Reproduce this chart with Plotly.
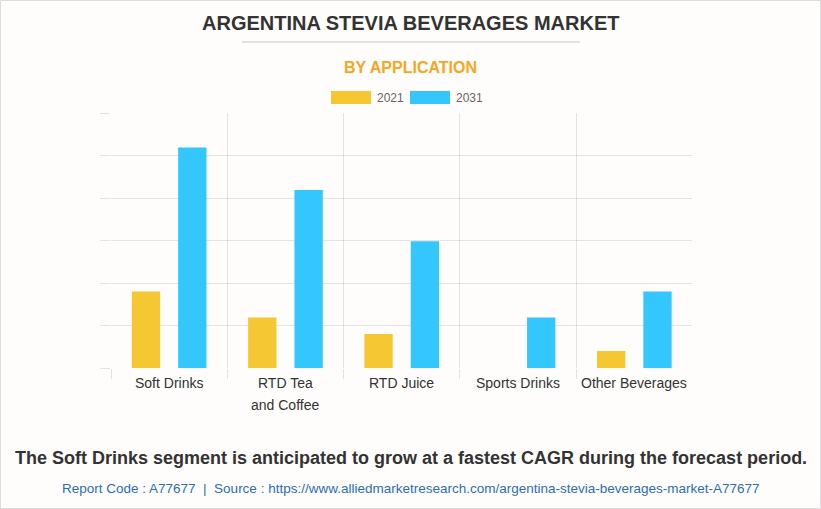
import plotly.graph_objects as go

categories = ["Soft Drinks", "RTD Tea<br>and Coffee", "RTD Juice", "Sports Drinks", "Other Beverages"]
values_2021 = [1.80, 1.19, 0.80, 0, 0.40]
values_2031 = [5.19, 4.19, 2.98, 1.19, 1.80]
series_names = ["2021", "2031"]
series_colors = ["#F4C733", "#33C7FE"]

W, H = 821, 509
ML, MR, MT, MB = 111, 129, 113, 141
PW, PH = W - ML - MR, H - MT - MB


def px(x):
    return (x - ML) / PW


def py(y):
    return (H - MB - y) / PH


fig = go.Figure()
for name, vals, col in zip(series_names, [values_2021, values_2031], series_colors):
    fig.add_trace(go.Bar(x=categories, y=vals, name=name, marker=dict(color=col, line=dict(width=0)),
                         showlegend=False))

grid = "rgba(0,0,0,0.1)"
fig.update_layout(
    width=W, height=H,
    margin=dict(l=ML, r=MR, t=MT, b=MB),
    paper_bgcolor="#FEFDFB", plot_bgcolor="#FEFDFB",
    barmode="group", bargap=0.203, bargroupgap=0.389,
    font=dict(family="Liberation Sans, Arial, sans-serif", color="#333"),
    xaxis=dict(tickson="boundaries", showgrid=True, gridcolor=grid, ticks="outside", ticklen=10,
               tickcolor=grid, showline=False, zeroline=False, showticklabels=False,
               range=[-0.5, 4.496]),
    yaxis=dict(range=[0, 6], dtick=1, showticklabels=False, showgrid=True, gridcolor=grid,
               ticks="outside", ticklen=10, tickcolor=grid, zeroline=False, showline=False),
)

shapes = [
    dict(type="line", xref="paper", yref="paper", x0=px(242), x1=px(580), y0=py(42), y1=py(42),
         line=dict(color="#E2E2E2", width=2)),
    dict(type="rect", xref="paper", yref="paper", x0=px(331), x1=px(371), y0=py(104), y1=py(91),
         fillcolor=series_colors[0], line=dict(width=0)),
    dict(type="rect", xref="paper", yref="paper", x0=px(410), x1=px(450), y0=py(104), y1=py(91),
         fillcolor=series_colors[1], line=dict(width=0)),
    dict(type="rect", xref="paper", yref="paper", x0=px(0.5), x1=px(820.5), y0=py(508.5), y1=py(0.5),
         line=dict(color="#DDDDDD", width=1)),
]
fig.update_layout(shapes=shapes)

ann = [
    dict(text="<b>ARGENTINA STEVIA BEVERAGES MARKET</b>", x=px(410.5), y=py(23), size=20, color="#333333"),
    dict(text="<b>BY APPLICATION</b>", x=px(410.5), y=py(67), size=16, color="#F5A623"),
    dict(text="<b>The Soft Drinks segment is anticipated to grow at a fastest CAGR during the forecast period.</b>",
         x=px(411), y=py(458), size=18, color="#333333"),
    dict(text="Report Code : A77677  |  Source : https://www.alliedmarketresearch.com/argentina-stevia-beverages-market-A77677",
         x=px(410.5), y=py(488), size=13.5, color="#2D6DB5"),
]
annotations = [dict(text=a["text"], x=a["x"], y=a["y"], xref="paper", yref="paper", showarrow=False,
                    xanchor="center", yanchor="middle", font=dict(size=a["size"], color=a["color"]))
               for a in ann]
annotations += [
    dict(text=series_names[0], x=px(375), y=py(97.5), xref="paper", yref="paper", showarrow=False,
         xanchor="left", yanchor="middle", font=dict(size=12, color="#666")),
    dict(text=series_names[1], x=px(454), y=py(97.5), xref="paper", yref="paper", showarrow=False,
         xanchor="left", yanchor="middle", font=dict(size=12, color="#666")),
]
# category labels (drawn as text at each category position, lines spaced like the reference)
for cat in categories:
    for i, line in enumerate(cat.split("<br>")):
        annotations.append(dict(text=line, x=cat, y=py(383 + 22 * i), xref="x", yref="paper",
                                showarrow=False, xanchor="center", yanchor="middle",
                                font=dict(size=14, color="#333")))
fig.update_layout(annotations=annotations)

fig.write_html("out.html", config={"displayModeBar": False},
               post_script="document.body.style.margin='0';document.body.style.overflow='hidden';")
